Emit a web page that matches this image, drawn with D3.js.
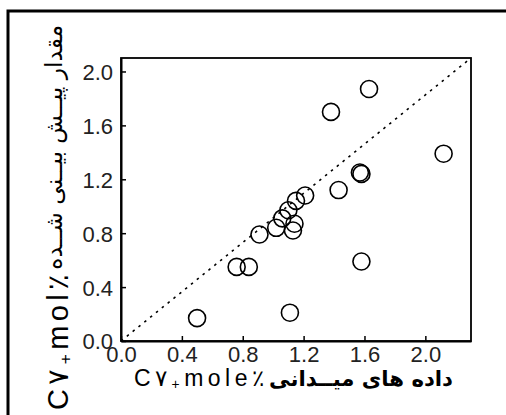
<!DOCTYPE html>
<html>
<head>
<meta charset="utf-8">
<script src="https://cdn.jsdelivr.net/npm/d3@7/dist/d3.min.js"></script>
<style>
  body { margin: 0; background: #fff; }
  svg { display: block; }
</style>
</head>
<body>
<div id="chart"></div>
<script>
// field data (x) vs predicted (y), C7+ mole %
var fieldValues = [0.50, 0.76, 0.84, 0.91, 1.02, 1.06, 1.10, 1.13, 1.14, 1.15, 1.21, 1.11, 1.38, 1.63, 2.12, 1.57, 1.58, 1.43, 1.58];
var predictedValues = [0.17, 0.55, 0.55, 0.79, 0.84, 0.91, 0.97, 0.82, 0.87, 1.04, 1.08, 0.21, 1.70, 1.87, 1.39, 1.25, 1.24, 1.12, 0.59];
var xTicks = [0.0, 0.4, 0.8, 1.2, 1.6, 2.0];
var yTicks = [0.0, 0.4, 0.8, 1.2, 1.6, 2.0];
var xDomain = [0, 2.3];
var yDomain = [0, 2.1];
var xTitleLatin = ["C۷", "+", "mole٪"];
var xTitleFarsi = "داده های میــدانی";
var yTitleLatin = ["C۷", "+", "mol٪"];
var yTitleFarsi = "مقدار پیــش بیــنی شــده";

var W = 506, H = 415;
var margin = { top: 58, right: 35, bottom: 74, left: 121 },
    width = W - margin.left - margin.right,
    height = H - margin.top - margin.bottom;

var svg = d3.select('#chart').append('svg').attr('width', W).attr('height', H);

// outer frame (only left / top visible)
svg.append('rect').attr('x', 8).attr('y', 11).attr('width', 600).attr('height', 600)
  .attr('fill', 'none').attr('stroke', '#000').attr('stroke-width', 3);

var g = svg.append('g').attr('transform', 'translate(' + margin.left + ',' + margin.top + ')');

var scaleX = d3.scaleLinear().domain(xDomain).range([0, width]);
var scaleY = d3.scaleLinear().domain(yDomain).range([height, 0]);

// box
g.append('rect').attr('width', width).attr('height', height)
  .attr('fill', 'none').attr('stroke', '#000').attr('stroke-width', 1.8);

var fmt = d3.format('.1f');
var axX = g.append('g').attr('transform', 'translate(0,' + height + ')')
  .call(d3.axisBottom(scaleX).tickValues(xTicks).tickFormat(fmt).tickSizeInner(-5).tickSizeOuter(0).tickPadding(5));
var axY = g.append('g')
  .call(d3.axisLeft(scaleY).tickValues(yTicks).tickFormat(fmt).tickSizeInner(-5).tickSizeOuter(0).tickPadding(8));

[axX, axY].forEach(function (ax) {
  ax.select('.domain').attr('stroke-width', 2);
  ax.selectAll('.tick line').attr('stroke-width', 1.5);
  ax.selectAll('.tick text').attr('font-family', '"Liberation Sans", Arial, sans-serif')
    .attr('font-size', 22).attr('fill', '#222');
});
axY.selectAll('.tick text').attr('dy', '0.36em');

// 1:1 line (corner to corner)
g.append('line')
  .attr('x1', scaleX(xDomain[0])).attr('y1', scaleY(yDomain[0]))
  .attr('x2', scaleX(xDomain[1])).attr('y2', scaleY(yDomain[1]))
  .attr('stroke', '#000').attr('stroke-width', 1.6).attr('stroke-dasharray', '2.5,5');

// points
var points = fieldValues.map(function (v, i) { return { x: v, y: predictedValues[i] }; });
g.selectAll('circle.pt').data(points).enter().append('circle')
  .attr('class', 'pt')
  .attr('cx', function (d) { return scaleX(d.x); })
  .attr('cy', function (d) { return scaleY(d.y); })
  .attr('r', 8.5)
  .attr('fill', 'none').attr('stroke', '#000').attr('stroke-width', 1.6);

// latin part: C7 + subscript-ish plus + rest
var latinTitle = function (sel, parts, size, len) {
  sel.attr('font-family', '"Liberation Sans", Arial, sans-serif').attr('font-size', size)
    .attr('textLength', len).attr('lengthAdjust', 'spacing');
  sel.append('tspan').text(parts[0]);
  sel.append('tspan').attr('font-size', size * 0.6).attr('dy', size * 0.12).text(parts[1]);
  sel.append('tspan').attr('dy', -size * 0.12).text(parts[2]);
};
// farsi part: shrink font to fit, no spacing tricks (keeps letters joined)
var fitText = function (sel, size, len) {
  sel.attr('font-size', size);
  var l = sel.node().getComputedTextLength();
  sel.attr('font-size', size * len / l);
};

// x title
latinTitle(svg.append('text').attr('x', 134).attr('y', 386), xTitleLatin, 23, 130);
fitText(svg.append('text').attr('x', 453).attr('y', 386).attr('text-anchor', 'end')
  .attr('font-family', '"DejaVu Sans", sans-serif').attr('font-weight', 'bold')
  .text(xTitleFarsi), 20, 184);

// y title
latinTitle(svg.append('text').attr('transform', 'translate(68,410) rotate(-90)'), yTitleLatin, 29, 136);
fitText(svg.append('text').attr('transform', 'translate(62,25) rotate(-90)').attr('text-anchor', 'end')
  .attr('font-family', '"DejaVu Sans", sans-serif')
  .text(yTitleFarsi), 19, 245);
</script>
</body>
</html>
